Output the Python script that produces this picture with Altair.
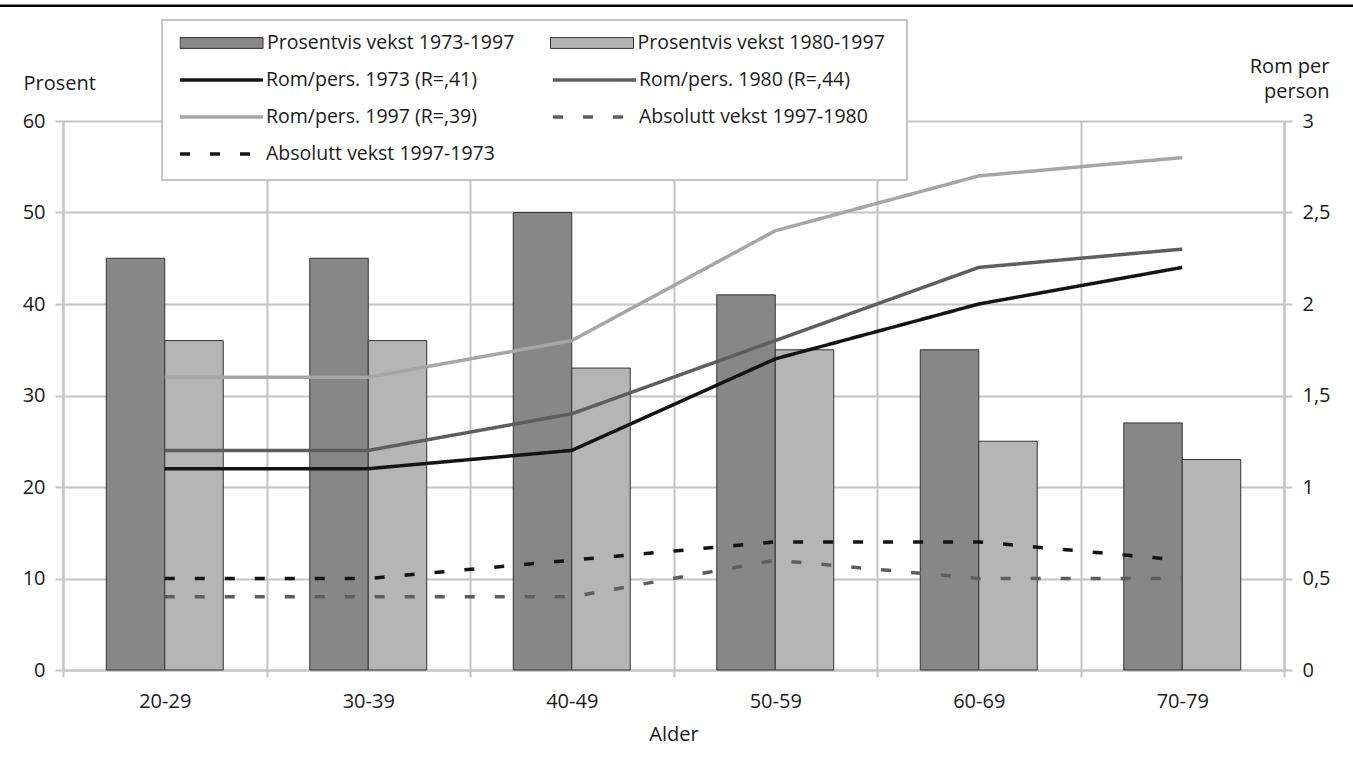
import altair as alt
import pandas as pd

# Age groups on the x axis
alder = ["20-29", "30-39", "40-49", "50-59", "60-69", "70-79"]

# Percentage growth (left axis, bars)
vekst_1973_1997 = [45, 45, 50, 41, 35, 27]
vekst_1980_1997 = [36, 36, 33, 35, 25, 23]

# Rooms per person and absolute growth (right axis, lines)
rom_1973 = [1.1, 1.1, 1.2, 1.7, 2.0, 2.2]
rom_1980 = [1.2, 1.2, 1.4, 1.8, 2.2, 2.3]
rom_1997 = [1.6, 1.6, 1.8, 2.4, 2.7, 2.8]
abs_1997_1980 = [0.4, 0.4, 0.4, 0.6, 0.5, 0.5]
abs_1997_1973 = [0.5, 0.5, 0.6, 0.7, 0.7, 0.6]

bar_series = ["Prosentvis vekst 1973-1997", "Prosentvis vekst 1980-1997"]
line_series = [
    "Rom/pers. 1973 (R=,41)",
    "Rom/pers. 1980 (R=,44)",
    "Rom/pers. 1997 (R=,39)",
    "Absolutt vekst 1997-1980",
    "Absolutt vekst 1997-1973",
]

bar_colors = ["#878787", "#b5b5b5"]
line_colors = ["#141414", "#5e5e5e", "#a6a6a6", "#5e5e5e", "#141414"]
line_dashes = [[1, 0], [1, 0], [1, 0], [10, 20], [10, 20]]

bar_values = [vekst_1973_1997, vekst_1980_1997]
line_values = [rom_1973, rom_1980, rom_1997, abs_1997_1980, abs_1997_1973]

bar_df = pd.DataFrame(
    [{"alder": a, "serie": s, "verdi": v}
     for s, vals in zip(bar_series, bar_values) for a, v in zip(alder, vals)]
)
line_df = pd.DataFrame(
    [{"alder": a, "serie": s, "verdi": v}
     for s, vals in zip(line_series, line_values) for a, v in zip(alder, vals)]
)

FONT = "Open Sans"
GRID = "#c4c4c4"
TEXT = "#1a1a1a"
W, H = 1221, 549
OX, OY = 63, 121  # plot origin inside the page

legend_common = dict(
    title=None,
    orient="none",
    direction="horizontal",
    columns=2,
    padding=0,
    clipHeight=24,
    rowPadding=13,
    symbolSize=83 * 83,
    symbolOffset=0,
    labelFont=FONT,
    labelFontSize=19.5,
    labelColor=TEXT,
    labelLimit=400,
)

bar_legend = alt.Legend(
    legendX=179.5 - OX,
    legendY=31 - OY,
    columnPadding=35.5,
    labelOffset=3.5,
    symbolType="M-1,-0.13H1V0.13H-1Z",
    symbolStrokeColor="#333333",
    symbolStrokeWidth=1,
    **legend_common,
)

line_legend = alt.Legend(
    legendX=178 - OX,
    legendY=68 - OY,
    columnPadding=56,
    labelOffset=1,
    symbolType="stroke",
    symbolStrokeWidth=3.5,
    **legend_common,
)

x_enc = alt.X(
    "alder:N",
    sort=alder,
    scale=alt.Scale(domain=alder, paddingInner=0, paddingOuter=0),
    axis=alt.Axis(
        title="Alder",
        labelAngle=0,
        tickBand="extent",
        tickSize=7,
        labelPadding=14,
        grid=True,
        titleY=70,
        titleBaseline="alphabetic",
    ),
)

bars = alt.Chart(bar_df).mark_bar(stroke="#333333", strokeWidth=1).encode(
    x=x_enc,
    xOffset=alt.XOffset(
        "serie:N",
        scale=alt.Scale(domain=bar_series, paddingInner=0, paddingOuter=0.74),
    ),
    y=alt.Y(
        "verdi:Q",
        scale=alt.Scale(domain=[0, 60]),
        axis=alt.Axis(
            title="Prosent",
            titleAngle=0,
            titleAlign="left",
            titleBaseline="alphabetic",
            titleX=-40,
            titleY=-32,
            values=[0, 10, 20, 30, 40, 50, 60],
            tickSize=8,
            labelPadding=10,
            grid=True,
        ),
    ),
    color=alt.Color(
        "serie:N",
        scale=alt.Scale(domain=bar_series, range=bar_colors),
        legend=bar_legend,
    ),
)

lines = alt.Chart(line_df).mark_line(strokeWidth=3.5, strokeCap="butt").encode(
    x=x_enc,
    y=alt.Y(
        "verdi:Q",
        scale=alt.Scale(domain=[0, 3]),
        axis=alt.Axis(
            orient="right",
            title=["Rom per", "person"],
            titleAngle=0,
            titleAlign="right",
            titleBaseline="alphabetic",
            titleX=45,
            titleY=-49,
            titleLineHeight=25,
            values=[0, 0.5, 1, 1.5, 2, 2.5, 3],
            labelExpr="replace(toString(datum.value), '.', ',')",
            tickSize=8,
            labelPadding=10,
            grid=False,
        ),
    ),
    color=alt.Color(
        "serie:N",
        scale=alt.Scale(domain=line_series, range=line_colors),
        legend=line_legend,
    ),
    strokeDash=alt.StrokeDash(
        "serie:N",
        scale=alt.Scale(domain=line_series, range=line_dashes),
        legend=line_legend,
    ),
)

frame = pd.DataFrame({"k": [0]})

# White box with a grey border behind the legend entries
legend_box = alt.Chart(frame).mark_rect(
    fill="white", stroke=GRID, strokeWidth=2
).encode(
    x=alt.value(162 - OX),
    x2=alt.value(907 - OX),
    y=alt.value(20 - OY),
    y2=alt.value(180 - OY),
)

# Thin black rule across the top of the figure
top_rule = alt.Chart(frame).mark_rule(color="#000000", strokeWidth=2.5).encode(
    x=alt.value(-OX),
    x2=alt.value(1353 - OX),
    y=alt.value(5.7 - OY),
)

chart = (
    alt.layer(bars, lines, legend_box, top_rule)
    .resolve_scale(y="independent", color="independent", strokeDash="independent")
    .properties(
        width=W,
        height=H,
        autosize=alt.AutoSizeParams(type="none"),
        padding={"left": OX, "top": OY, "right": 1353 - OX - W, "bottom": 760 - OY - H},
        background="white",
    )
    .configure_view(stroke=None)
    .configure_axis(
        labelFont=FONT,
        labelFontSize=20,
        labelColor=TEXT,
        titleFont=FONT,
        titleFontSize=20,
        titleFontWeight="normal",
        titleColor=TEXT,
        gridColor=GRID,
        gridWidth=2,
        domainColor=GRID,
        domainWidth=2,
        tickColor=GRID,
        tickWidth=2,
    )
)

chart.save("out.html", embed_options={"renderer": "svg", "actions": False})
